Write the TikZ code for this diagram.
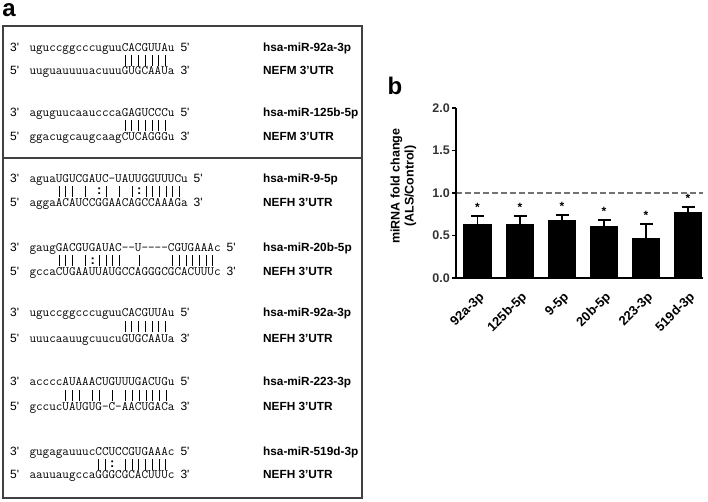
\documentclass[tikz,border=0pt]{standalone}
\usepackage{fontspec}
\newfontfamily\arial{Liberation Sans}
\newcommand\strandmark[1]{{\arial\fontsize{12}{14}\selectfont#1}}
\newcommand\headmark[1]{\makebox[19.3pt][l]{\strandmark{#1}}}
\newcommand\tailmark[1]{\hspace{6pt}\strandmark{#1}}
\newcommand\hy{\mbox{-}}
\newcommand\bp{\makebox[0.525em]{\rule[-2pt]{1pt}{11pt}}}
\newcommand\wb{\makebox[0.525em]{\arial\bfseries\fontsize{13}{13}\selectfont:}}

\begin{document}
\begin{tikzpicture}[x=1pt,y=-1pt,
  seq/.style={anchor=base west, inner sep=0pt, font=\ttfamily\fontsize{12.8}{14}\selectfont},
  target/.style={anchor=base west, inner sep=0pt, font=\arial\fontsize{11.8}{14}\selectfont\bfseries},
  panel/.style={inner sep=0pt, font=\arial\fontsize{24}{28}\selectfont\bfseries},
  frame/.style={draw=black!75, line width=1.2pt},
  axis/.style={line width=1.8pt},
  ticklab/.style={anchor=east, inner sep=0pt, text=black!80, font=\arial\fontsize{12.5}{14}\selectfont\bfseries},
  barlab/.style={anchor=east, rotate=45, inner sep=0pt, font=\arial\fontsize{13}{15}\selectfont\bfseries},
  sig/.style={anchor=base, inner sep=0pt, font=\arial\fontsize{12}{14}\selectfont\bfseries},
  errbar/.style={line width=1.5pt}]
\useasboundingbox (0,0) rectangle (708,502);

\node[panel] (pa) at (9,10) {a};
\draw[frame] (3,26) rectangle (362,498);
\draw[frame] (3,158) -- (362,158);

\node[seq] (mir1) at (10,51.5) {\headmark{3'}uguccggcccuguuCACGUUAu\tailmark{5'}};
\node[seq] (pair1) at (10,64) {\headmark{}~~~~~~~~~~~~~~\bp\bp\bp\bp\bp\bp\bp};
\node[seq] (utr1) at (10,74.5) {\headmark{5'}uuguauuuuacuuuGUGCAAUa\tailmark{3'}};
\node[target] (name1) at (263,51.5) {hsa-miR-92a-3p};
\node[target] (gene1) at (263,74.5) {NEFM 3’UTR};

\node[seq] (mir2) at (10,116.5) {\headmark{3'}aguguucaaucccaGAGUCCCu\tailmark{5'}};
\node[seq] (pair2) at (10,129) {\headmark{}~~~~~~~~~~~~~~\bp\bp\bp\bp\bp\bp\bp};
\node[seq] (utr2) at (10,140.5) {\headmark{5'}ggacugcaugcaagCUCAGGGu\tailmark{3'}};
\node[target] (name2) at (263,116.5) {hsa-miR-125b-5p};
\node[target] (gene2) at (263,140.5) {NEFM 3’UTR};

\node[seq] (mir3) at (10,182.5) {\headmark{3'}aguaUGUCGAUC\hy UAUUGGUUUCu\tailmark{5'}};
\node[seq] (pair3) at (10,195) {\headmark{}~~~~\bp\bp\bp~\bp~\wb\bp~\bp~\bp\wb\bp\bp\bp\bp\bp\bp};
\node[seq] (utr3) at (10,206.5) {\headmark{5'}aggaACAUCCGGAACAGCCAAAGa\tailmark{3'}};
\node[target] (name3) at (263,182.5) {hsa-miR-9-5p};
\node[target] (gene3) at (263,206.5) {NEFH 3’UTR};

\node[seq] (mir4) at (10,251.5) {\headmark{3'}gaugGACGUGAUAC\hy\hy U\hy\hy\hy\hy CGUGAAAc\tailmark{5'}};
\node[seq] (pair4) at (10,264) {\headmark{}~~~~\bp\bp\bp~\bp\wb\bp\bp\bp\bp~~\bp~~~~\bp\bp\bp\bp\bp\bp\bp};
\node[seq] (utr4) at (10,275.5) {\headmark{5'}gccaCUGAAUUAUGCCAGGGCGCACUUUc\tailmark{3'}};
\node[target] (name4) at (263,251.5) {hsa-miR-20b-5p};
\node[target] (gene4) at (263,275.5) {NEFH 3’UTR};

\node[seq] (mir5) at (10,316.5) {\headmark{3'}uguccggcccuguuCACGUUAu\tailmark{5'}};
\node[seq] (pair5) at (10,330) {\headmark{}~~~~~~~~~~~~~~\bp\bp\bp\bp\bp\bp\bp};
\node[seq] (utr5) at (10,342.5) {\headmark{5'}uuucaauugcuucuGUGCAAUa\tailmark{3'}};
\node[target] (name5) at (263,316.5) {hsa-miR-92a-3p};
\node[target] (gene5) at (263,342.5) {NEFH 3’UTR};

\node[seq] (mir6) at (10,385.5) {\headmark{3'}accccAUAAACUGUUUGACUGu\tailmark{5'}};
\node[seq] (pair6) at (10,398.5) {\headmark{}~~~~~\bp\bp\bp~\bp\bp~\bp~\bp\bp\bp\bp\bp\bp\bp};
\node[seq] (utr6) at (10,410.5) {\headmark{5'}gccucUAUGUG\hy C\hy AACUGACa\tailmark{3'}};
\node[target] (name6) at (263,385.5) {hsa-miR-223-3p};
\node[target] (gene6) at (263,410.5) {NEFH 3’UTR};

\node[seq] (mir7) at (10,455.5) {\headmark{3'}gugagauuucCCUCCGUGAAAc\tailmark{5'}};
\node[seq] (pair7) at (10,467.5) {\headmark{}~~~~~~~~~~\bp\bp\wb~\bp\bp\bp\bp\bp\bp\bp};
\node[seq] (utr7) at (10,478.5) {\headmark{5'}aauuaugccaGGGCGCACUUUc\tailmark{3'}};
\node[target] (name7) at (263,455.5) {hsa-miR-519d-3p};
\node[target] (gene7) at (263,478.5) {NEFH 3’UTR};

\node[panel] (pb) at (395,86) {b};
\begin{scope}[shift={(0,278)}, y=85pt]
\node[rotate=90, align=center, inner sep=0pt, font=\arial\fontsize{12.5}{14}\selectfont\bfseries] (ylab) at (403.5,1.08) {miRNA fold change\\(ALS/Control)};
\draw[black!55, line width=1.4pt, dash pattern=on 5.5pt off 3.5pt] (456,1) -- (703,1);

\fill (463,0) rectangle (492,0.63);
\fill (506,0) rectangle (534,0.63);
\fill (548,0) rectangle (576,0.68);
\fill (590,0) rectangle (618,0.61);
\fill (632,0) rectangle (660,0.47);
\fill (674,0) rectangle (702,0.78);

\draw[errbar] (477.5,0.63) -- (477.5,0.73) (471,0.73) -- (484,0.73);
\draw[errbar] (520,0.63) -- (520,0.73) (513.5,0.73) -- (526.5,0.73);
\draw[errbar] (562,0.68) -- (562,0.74) (555.5,0.74) -- (568.5,0.74);
\draw[errbar] (604,0.61) -- (604,0.68) (597.5,0.68) -- (610.5,0.68);
\draw[errbar] (646,0.47) -- (646,0.635) (639.5,0.635) -- (652.5,0.635);
\draw[errbar] (688,0.78) -- (688,0.835) (681.5,0.835) -- (694.5,0.835);

\node[sig] (star1) at (477.5,0.78) {*};
\node[sig] (star2) at (520,0.78) {*};
\node[sig] (star3) at (562,0.79) {*};
\node[sig] (star4) at (604,0.73) {*};
\node[sig] (star5) at (646,0.685) {*};
\node[sig] (star6) at (688,0.885) {*};

\draw[axis] (456,2) -- (456,0) -- (703,0);
\draw[axis] (452,0) -- (456,0) (452,0.5) -- (456,0.5) (452,1) -- (456,1) (452,1.5) -- (456,1.5) (452,2) -- (456,2);
\node[ticklab] (tick0) at (450,0) {0.0};
\node[ticklab] (tick1) at (450,0.5) {0.5};
\node[ticklab] (tick2) at (450,1) {1.0};
\node[ticklab] (tick3) at (450,1.5) {1.5};
\node[ticklab] (tick4) at (450,2) {2.0};

\node[barlab] (cat1) at (482.5,-0.2) {92a-3p};
\node[barlab] (cat2) at (525,-0.2) {125b-5p};
\node[barlab] (cat3) at (567,-0.2) {9-5p};
\node[barlab] (cat4) at (609,-0.2) {20b-5p};
\node[barlab] (cat5) at (651,-0.2) {223-3p};
\node[barlab] (cat6) at (693,-0.2) {519d-3p};
\end{scope}
\end{tikzpicture}
\end{document}
